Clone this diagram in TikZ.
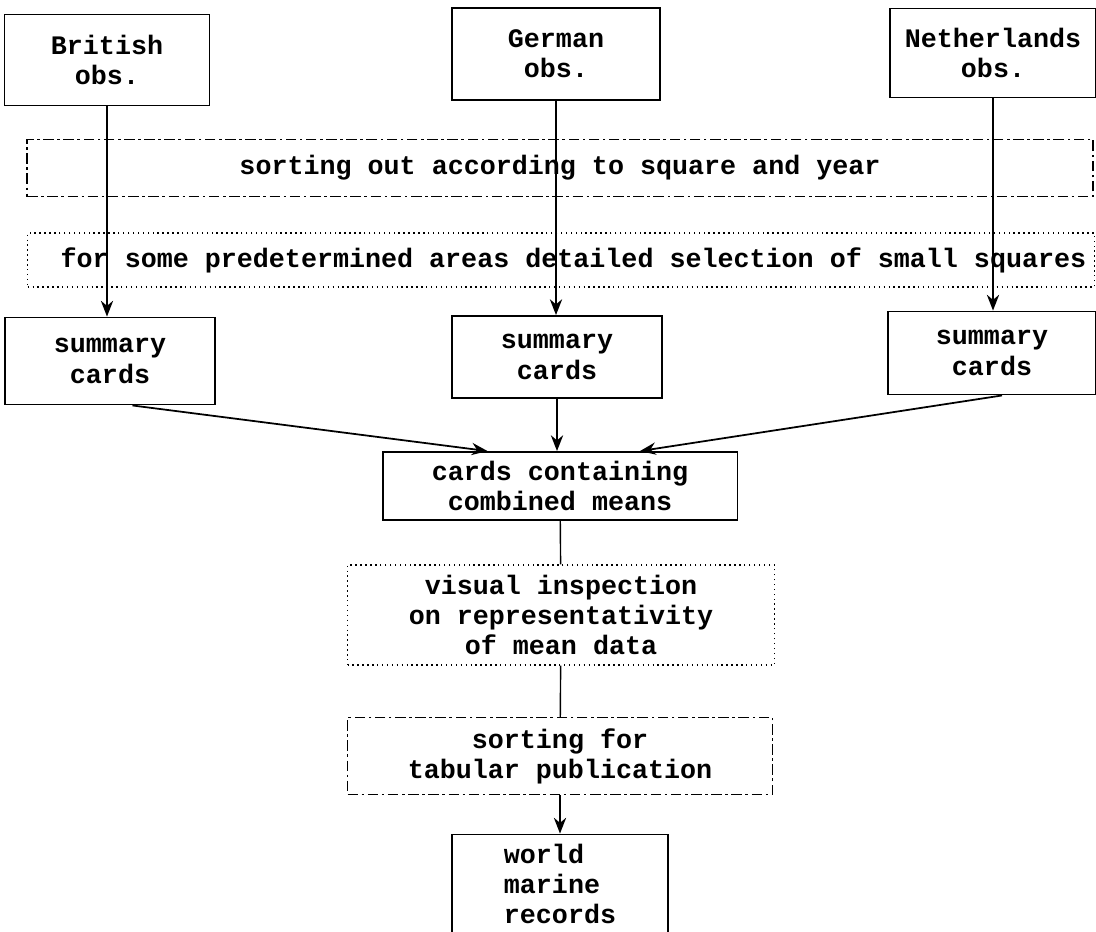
\documentclass[tikz,border=0pt]{standalone}
\usepackage{fontspec}
\newfontfamily\typewriter{Liberation Mono}
\usetikzlibrary{arrows.meta}

\tikzset{
  box/.style={draw, line width=1.1pt, align=center, inner sep=0pt},
  dashbox/.style={box, line width=0.8pt, dash pattern=on 6pt off 2pt on 1.5pt off 2pt},
  dotbox/.style={box, line width=0.8pt, dotted},
  arr/.style={-{Stealth[length=9pt,width=7pt]}, line width=1pt},
  link/.style={line width=0.8pt}
}

\begin{document}
\begin{tikzpicture}[x=0.02cm, y=-0.02cm,
  every node/.style={font=\typewriter\bfseries\fontsize{15.2}{17.2}\selectfont}]
\useasboundingbox (0,0) rectangle (1096,931);

% observations
\node[box, minimum width=4.1cm, minimum height=1.82cm] (brit) at (107,60) {British\\obs.};
\node[box, minimum width=4.16cm, minimum height=1.84cm] (germ) at (556,54) {German\\obs.};
\node[box, minimum width=4.12cm, minimum height=1.78cm] (neth) at (993,53) {Netherlands\\obs.};

% sorting and selection
\node[dashbox, minimum width=21.32cm, minimum height=1.14cm] (sortout) at (560,168)
  {sorting out according to square and year};
\node[dotbox, minimum width=21.34cm, minimum height=1.08cm] (select) at (561,260)
  {\hspace*{0.5cm}for some predetermined areas detailed selection of small squares};

% summary cards
\node[box, minimum width=4.2cm, minimum height=1.74cm] (sumb) at (110,361) {summary\\cards};
\node[box, minimum width=4.2cm, minimum height=1.64cm] (sumg) at (557,357) {summary\\cards};
\node[box, minimum width=4.16cm, minimum height=1.66cm] (sumn) at (992,353) {summary\\cards};

\node[box, minimum width=7.1cm, minimum height=1.36cm] (comb) at (560,486)
  {cards containing\\combined means};
\node[dotbox, minimum width=8.54cm, minimum height=2.0cm] (visual) at (561,615)
  {visual inspection\\on representativity\\of mean data};
\node[dashbox, minimum width=8.5cm, minimum height=1.54cm] (sortpub) at (560,756)
  {sorting for\\tabular publication};
\node[box, align=left, minimum width=4.32cm, minimum height=1.98cm] (world) at (560,884)
  {world\\marine\\records};

\draw[arr] (brit.south) -- (brit.south |- sumb.north);
\draw[arr] (germ.south) -- (germ.south |- sumg.north);
\draw[arr] (neth.south) -- (neth.south |- sumn.north);

\draw[arr] ([xshift=0.45cm]sumb.south) -- ([xshift=-1.45cm]comb.north);
\draw[arr] (sumg.south) -- (sumg.south |- comb.north);
\draw[arr] ([xshift=0.2cm]sumn.south) -- ([xshift=1.6cm]comb.north);

\draw[link] (comb) -- (visual);
\draw[link] (visual) -- (sortpub);
\draw[arr] (sortpub.south) -- (world.north);
\end{tikzpicture}
\end{document}
